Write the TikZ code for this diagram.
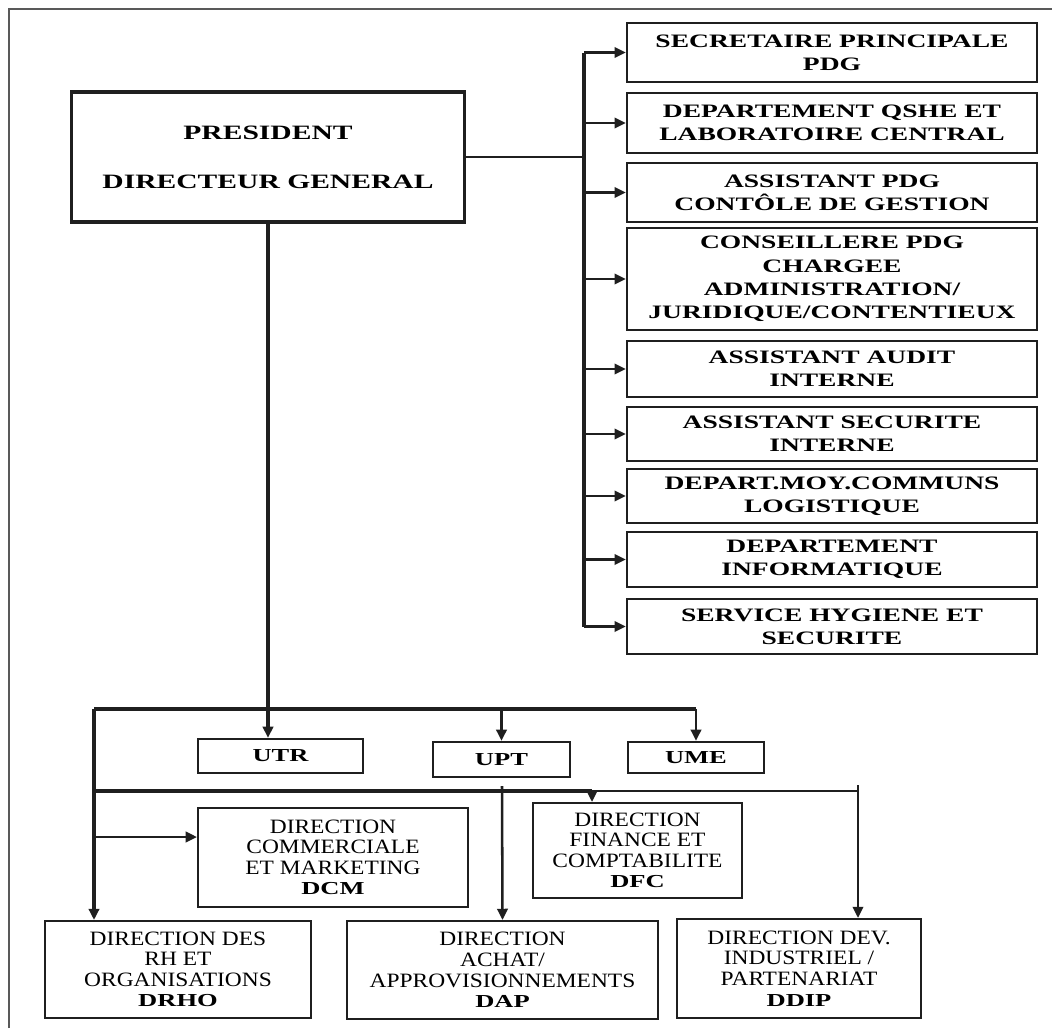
\documentclass[tikz,border=0pt]{standalone}
\usepackage{fontspec}
\setmainfont{Liberation Serif}
\newfontfamily\wideserif[FakeStretch=1.45]{Liberation Serif}
\newfontfamily\lowserif[FakeStretch=1.15]{Liberation Serif}
\usetikzlibrary{arrows.meta,positioning,calc}
\definecolor{inkgray}{HTML}{1F1F1F}
\newcommand{\acro}[1]{{\wideserif\bfseries\fontsize{13}{14.6}\selectfont #1}}
\tikzset{
  dims/.style 2 args={
    minimum width=#1*0.025cm,
    minimum height=#2*0.025cm
  },
  chief/.style={
    rectangle,
    draw=inkgray,
    line width=2.4pt,
    align=center,
    inner sep=0pt,
    font=\wideserif\bfseries\fontsize{14.5}{34.7}\selectfont
  },
  staff/.style={
    rectangle,
    draw=inkgray,
    line width=1.8pt,
    align=center,
    inner sep=0pt,
    font=\wideserif\bfseries\fontsize{13.5}{16.5}\selectfont
  },
  unitbox/.style={
    rectangle,
    draw=inkgray,
    line width=1.7pt,
    align=center,
    inner sep=0pt,
    font=\wideserif\bfseries\fontsize{13}{15}\selectfont
  },
  direction/.style={
    rectangle,
    draw=inkgray,
    line width=1.5pt,
    align=center,
    inner sep=0pt,
    font=\lowserif\fontsize{14.5}{14.6}\selectfont
  },
  line/.style={-{Triangle[length=2.8mm, width=2.6mm]}, line width=1.8pt, draw=inkgray},
  bus/.style={line width=2.3pt, draw=inkgray},
  wire/.style={line width=1.6pt, draw=inkgray},
  thinwire/.style={line width=1pt, draw=inkgray}
}
\begin{document}
\begin{tikzpicture}[x=0.025cm, y=-0.025cm]
  \useasboundingbox (0,0) rectangle (1052,1028);
  % open frame
  \draw[line width=1.4pt, black!65] (9,1028) -- (9,9) -- (1052,9);

  \node[chief, dims={393}{130}] (pdg) at (268,157) {PRESIDENT\\DIRECTEUR GENERAL};

  % staff column
  \node[staff, dims={410}{59}] (secr) at (832,52.5) {SECRETAIRE PRINCIPALE\\PDG};
  \node[staff, dims={410}{60}] (qshe) at (832,123) {DEPARTEMENT QSHE ET\\LABORATOIRE CENTRAL};
  \node[staff, dims={410}{59}] (asspdg) at (832,192.5) {ASSISTANT PDG\\CONTÔLE DE GESTION};
  \node[staff, dims={410}{102}] (conseil) at (832,279) {CONSEILLERE PDG\\CHARGEE\\ADMINISTRATION/\\JURIDIQUE/CONTENTIEUX};
  \node[staff, dims={410}{56}] (audit) at (832,369) {ASSISTANT AUDIT\\INTERNE};
  \node[staff, dims={410}{54}] (secu) at (832,434) {ASSISTANT SECURITE\\INTERNE};
  \node[staff, dims={410}{54}] (moy) at (832,496) {DEPART.MOY.COMMUNS\\LOGISTIQUE};
  \node[staff, dims={410}{55}] (info) at (832,559.5) {DEPARTEMENT\\INFORMATIQUE};
  \node[staff, dims={410}{55}] (hyg) at (832,626.5) {SERVICE HYGIENE ET\\SECURITE};

  \coordinate (sbus) at (584,0);
  \draw[wire] (pdg.east) -- (pdg.east -| sbus);
  \draw[bus] (sbus |- secr.west) -- (sbus |- hyg.west);
  \foreach \n in {secr,qshe,asspdg,conseil,audit,secu,moy,info,hyg}
    \draw[line] (sbus |- \n.west) -- (\n.west);

  % units
  \node[unitbox, dims={165}{34}] (utr) at (280.5,756) {UTR};
  \node[unitbox, dims={137}{35}] (upt) at (501.5,759.5) {UPT};
  \node[unitbox, dims={136}{31}] (ume) at (696,757.5) {UME};

  % directions
  \node[direction, dims={270}{99}] (dcm) at (333,857.5) {DIRECTION\\COMMERCIALE\\ET MARKETING\\\acro{DCM}};
  \node[direction, dims={209}{95}] (dfc) at (637.5,850.5) {DIRECTION\\FINANCE ET\\COMPTABILITE\\\acro{DFC}};
  \node[direction, dims={266}{97}] (drho) at (178,969.5) {DIRECTION DES\\RH ET\\ORGANISATIONS\\\acro{DRHO}};
  \node[direction, dims={311}{98}] (dap) at (502.5,970) {DIRECTION\\ACHAT/\\APPROVISIONNEMENTS\\\acro{DAP}};
  \node[direction, dims={244}{99}] (ddip) at (799,968.5) {DIRECTION DEV.\\INDUSTRIEL /\\PARTENARIAT\\\acro{DDIP}};

  \coordinate (topbar) at (94,709);
  \coordinate (lowbar) at (94,791);
  \coordinate (dfcin) at (592,791);
  \coordinate (ddipin) at (858,791);
  \coordinate (ddiptop) at (858,785);
  \coordinate (uptdrop) at (502,786);
  \coordinate (dcmin) at (94,837);

  \draw[bus] (topbar) -- (topbar -| ume.north);
  \draw[line, line width=2.3pt] (pdg.south) -- (pdg.south |- utr.north);
  \draw[line] (topbar -| upt.north) -- (upt.north);
  \draw[line] (topbar -| ume.north) -- (ume.north);
  \draw[line, line width=2.3pt] (topbar) -- (topbar |- drho.north);
  \draw[bus] (lowbar) -- (dfcin);
  \draw[thinwire] (dfcin) -- (ddipin);
  \draw[line] (dfcin) -- (dfcin |- dfc.north);
  \draw[line] (ddiptop) -- (ddiptop |- ddip.north);
  \draw[line] (uptdrop) -- (dap.north);
  \draw[line] (dcmin) -- (dcmin -| dcm.west);
\end{tikzpicture}
\end{document}
